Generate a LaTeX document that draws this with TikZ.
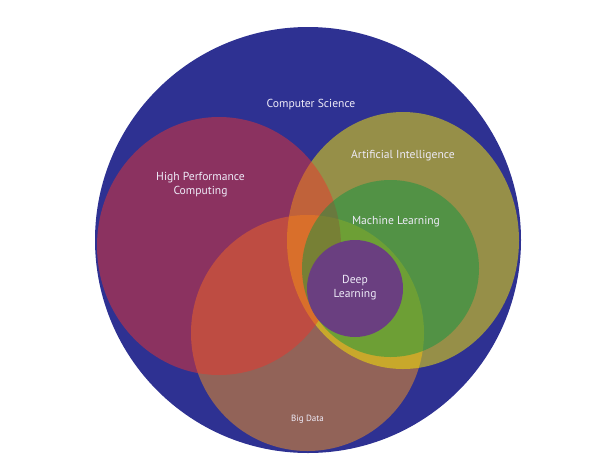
\documentclass[tikz,border=0pt]{standalone}
\usepackage{fontspec}
\setmainfont{PT Sans}
\usetikzlibrary{shapes.geometric}
\definecolor{csblue}{RGB}{46,49,146}
\definecolor{bdbrown}{RGB}{146,99,88}
\definecolor{aiyellow}{RGB}{254,237,0}
\definecolor{hpcred}{RGB}{236,53,44}
\definecolor{mlgreen}{RGB}{0,150,67}
\definecolor{dlpurple}{RGB}{106,63,128}
\definecolor{labelcol}{RGB}{238,235,248}
\begin{document}
\begin{tikzpicture}[x=1pt,y=-1pt,
  region/.style={ellipse,draw=none,inner sep=0pt,outer sep=0pt},
  lbl/.style={text=labelcol,font=\fontsize{11.6}{14.7}\selectfont,align=center,inner sep=0pt},
  smalllbl/.style={text=labelcol,font=\fontsize{9}{11}\selectfont,align=center,inner sep=0pt}]
\useasboundingbox[fill=white] (0,0) rectangle (610,469);
\node[region,fill=csblue,minimum width=426pt,minimum height=426pt] (cs) at (308,240) {};
\node[region,fill=bdbrown,minimum width=233pt,minimum height=236pt] (bd) at (307.5,333) {};
\node[region,fill=aiyellow,fill opacity=0.5,minimum width=232pt,minimum height=257pt] (ai) at (403,240.5) {};
\node[region,fill=hpcred,fill opacity=0.49,minimum width=244pt,minimum height=258pt] (hpc) at (219,246) {};
\node[region,fill=mlgreen,fill opacity=0.45,minimum width=177pt,minimum height=177pt] (ml) at (390.5,268.5) {};
\node[region,fill=dlpurple,minimum width=96pt,minimum height=97pt] (dl) at (355,288.5) {};
\node[lbl] (cslbl) at (311,104.5) {Computer Science};
\node[lbl] (ailbl) at (403,156) {Artificial Intelligence};
\node[lbl] (hpclbl) at (200.5,184.5) {High Performance\\Computing};
\node[lbl] (mllbl) at (396,222) {Machine Learning};
\node[lbl] (dllbl) at (355,287.5) {Deep\\Learning};
\node[smalllbl] (bdlbl) at (307.5,419) {Big Data};
\end{tikzpicture}
\end{document}
